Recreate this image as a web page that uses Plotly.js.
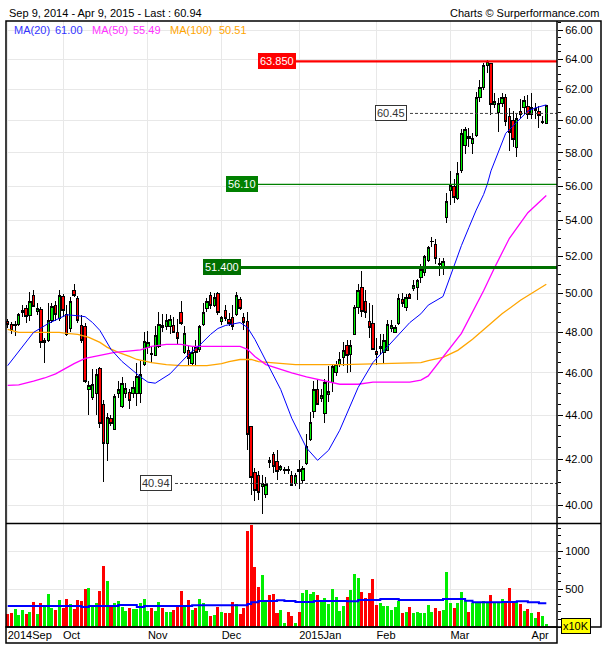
<!DOCTYPE html>
<html><head><meta charset="utf-8">
<script src="https://cdn.plot.ly/plotly-3.0.1.min.js"></script>
<style>html,body{margin:0;padding:0;background:#fff}#chart{width:605px;height:650px}
#chart .boxlayer path{shape-rendering:crispEdges}
#chart .barlayer path{shape-rendering:crispEdges}</style>
</head><body><div id="chart"></div>
<script>
// ---- data ----
const firstDay = '2014-09-09', lastDay = '2015-04-09';
const holidays = ['2014-12-25','2014-12-26','2015-01-01','2015-04-03','2015-04-06'];
const opens = [48.3,48.55,48.4,48.35,48.4,49.0,49.2,48.85,49.9,49.05,49.15,47.5,47.6,48.6,49.4,48.7,49.85,48.9,48.2,50.15,49.75,48.35,48.3,45.2,44.8,45.0,46.2,44.5,42.7,43.85,43.35,45.0,44.4,45.0,45.05,45.0,45.0,45.0,46.4,47.25,46.95,46.85,47.3,48.35,48.3,48.3,48.35,48.0,49.0,47.0,47.1,46.45,47.25,47.15,48.4,49.2,49.9,49.4,50.0,48.55,49.1,48.65,48.75,48.9,49.7,48.75,48.55,43.45,41.4,41.3,40.8,40.45,41.95,42.2,41.9,41.55,41.5,41.55,41.3,40.95,41.55,41.05,41.8,42.9,44.15,45.2,44.75,44.05,44.95,45.55,46.0,46.4,46.75,47.35,46.9,47.9,49.3,50.3,49.6,48.55,48.45,47.05,47.2,47.0,47.1,48.2,48.0,48.45,49.7,49.3,49.95,50.25,50.35,50.85,51.1,51.75,52.8,52.65,51.6,51.45,54.2,55.75,56.0,55.25,56.9,58.45,59.0,58.55,59.05,61.45,62.15,63.6,63.7,61.0,60.5,61.1,61.5,60.25,60.0,58.35,60.6,60.85,60.9,60.4,60.65,60.6,59.9,59.8];
const highs = [48.7,48.7,48.55,48.6,49.0,49.4,49.4,50.1,50.2,49.5,49.3,47.7,49.5,49.5,49.6,50.2,50.0,49.4,49.8,50.5,49.9,48.9,48.5,45.6,46.2,46.2,46.3,44.7,44.1,44.0,45.0,45.6,45.8,45.5,45.2,45.6,46.5,46.6,48.0,48.05,47.3,48.35,49.05,48.95,48.95,48.9,48.8,48.7,49.6,48.3,47.3,47.3,47.6,48.4,49.5,49.75,50.1,50.05,50.1,48.85,49.4,49.0,49.4,50.1,49.85,49.0,49.05,43.5,41.6,41.5,41.3,41.2,42.1,42.3,42.4,41.75,41.65,41.7,41.5,41.4,41.95,41.7,43.15,44.15,45.6,45.7,45.2,45.7,46.35,46.4,46.6,47.0,47.5,47.6,47.6,49.4,50.5,51.2,50.2,49.5,49.4,47.7,47.9,47.9,48.65,48.65,48.4,50.0,50.05,50.0,50.05,50.75,50.8,51.6,52.05,52.6,53.05,52.95,51.9,51.9,55.6,56.9,56.4,57.45,59.45,59.6,59.55,59.2,61.8,62.6,63.75,63.95,63.75,61.75,61.45,61.75,61.7,60.8,60.6,60.4,61.4,61.6,61.65,61.75,61.1,60.95,60.3,61.0];
const lows = [48.1,48.2,47.9,47.8,48.3,48.8,48.5,48.6,49.3,48.9,47.2,46.5,47.5,48.5,48.6,48.6,48.8,47.8,48.0,49.85,48.5,47.45,45.5,44.0,44.7,44.0,43.4,41.0,41.9,43.5,43.3,44.8,44.35,44.8,44.3,44.8,44.4,44.55,46.35,46.9,46.5,46.8,47.2,48.0,48.1,47.9,47.95,47.4,48.4,46.9,46.35,46.35,46.35,47.0,48.35,49.05,49.2,49.3,48.9,48.4,48.6,48.3,48.1,48.85,49.15,48.1,42.4,40.45,40.2,40.25,39.65,40.3,41.6,41.4,41.1,41.5,41.35,41.35,40.85,40.85,40.7,40.95,41.75,42.8,43.85,44.45,44.6,43.65,44.6,45.1,45.85,46.3,46.35,46.0,46.05,47.85,48.95,48.8,48.75,47.7,47.1,46.4,46.85,46.5,47.05,48.0,47.95,48.4,49.3,49.1,49.7,50.15,49.65,50.55,50.95,51.7,52.5,51.6,50.95,51.0,53.85,54.9,55.0,55.2,56.75,57.9,58.35,57.9,58.95,61.15,61.95,63.1,60.35,60.8,59.3,60.85,59.65,58.1,58.35,57.75,60.1,60.4,60.1,60.1,60.1,59.5,59.75,59.75];
const closes = [48.55,48.4,48.1,48.4,48.9,49.1,48.8,49.6,49.35,49.2,47.5,47.6,48.6,49.35,48.9,49.9,49.1,47.9,49.6,49.9,48.6,47.6,45.6,45.4,45.45,45.9,43.6,42.7,43.9,43.6,44.85,45.2,45.5,45.25,44.7,45.3,45.8,45.9,47.55,47.5,46.9,47.85,48.4,48.25,48.6,48.65,48.0,47.7,48.45,47.95,46.7,47.0,47.0,48.3,49.0,49.6,49.4,49.8,49.0,48.75,48.7,48.45,48.3,49.9,49.2,48.5,43.1,41.2,40.65,40.55,40.95,40.9,41.85,41.7,41.45,41.7,41.55,41.5,40.85,41.3,41.45,41.6,42.55,43.65,45.2,44.5,44.9,45.55,45.1,46.3,46.4,46.65,47.1,46.85,47.35,49.3,50.15,49.05,49.0,48.25,47.15,46.9,47.3,47.6,48.4,48.35,48.25,49.75,49.5,49.8,49.75,50.45,50.7,51.3,52.0,52.5,52.85,51.9,51.55,51.7,55.1,56.05,55.3,56.75,59.2,59.45,58.85,58.85,61.45,62.1,63.6,63.85,61.0,61.2,61.1,61.45,59.95,59.25,58.8,60.1,60.4,61.25,60.4,60.85,60.75,60.3,59.95,60.94];
const volumes = [200,171,180,232,158,224,171,197,329,171,316,276,434,250,224,355,250,368,303,237,355,342,500,513,290,316,474,803,605,263,316,342,263,211,250,237,237,316,368,211,250,211,329,250,197,197,224,272,474,272,355,224,250,368,316,211,145,158,263,197,184,184,329,303,171,250,1263,1342,790,526,684,333,421,434,184,224,48,197,145,53,197,447,487,434,461,421,342,382,303,500,395,211,276,395,487,697,645,461,382,447,632,290,316,276,276,224,263,342,184,197,263,184,197,184,184,290,197,250,211,224,724,316,250,316,461,355,197,316,329,316,342,316,421,316,316,368,329,513,316,342,303,211,237,184,118,197,145,42];

const ma20Idx = [1,5,8,12,15,17,20,22,24,26,29,32,35,37,39,41,45,48,50,53,56,58,60,64,66,68,71,75,78,82,85,88,91,96,100,105,110,113,115,119,122,124,126,128,130,131,132,134,136,139,142,144,147];
const ma20Val = [46.35,47.3,48.0,48.45,48.72,48.9,48.85,48.8,48.5,48.1,47.15,46.55,46.1,45.8,45.55,45.5,45.95,46.5,46.9,47.35,47.9,48.2,48.35,48.5,48.25,47.65,46.6,45.2,43.85,42.5,41.95,42.4,43.3,45.3,46.5,47.5,48.5,48.95,49.4,49.85,51.5,52.6,53.6,54.6,55.5,56.1,56.9,58.0,59.2,59.9,60.6,60.8,61.0];
const ma50Idx = [1,4,8,11,14,17,19,22,25,27,30,33,37,40,44,48,51,59,64,66,68,71,75,78,82,87,91,96,100,110,113,115,119,124,130,133,137,142,147];
const ma50Val = [45.4,45.42,45.6,45.75,45.95,46.25,46.45,46.7,46.8,46.9,47.0,47.05,47.12,47.3,47.4,47.4,47.3,47.3,47.3,47.15,46.8,46.4,46.15,46.0,45.8,45.6,45.45,45.45,45.55,45.55,45.65,45.85,46.75,47.95,50.15,51.4,53.0,54.45,55.45];
const ma100Idx = [1,4,11,15,17,20,23,26,28,31,34,36,40,44,48,55,59,61,64,67,69,73,79,92,101,113,115,119,123,127,131,135,140,145,147];
const ma100Val = [48.15,48.0,48.0,48.0,47.95,47.9,47.75,47.5,47.25,47.0,46.8,46.65,46.5,46.4,46.35,46.35,46.45,46.55,46.65,46.65,46.55,46.5,46.4,46.4,46.45,46.5,46.6,46.75,47.1,47.65,48.3,48.95,49.65,50.25,50.5];
const volMaIdx = [1,21,23,31,36,38,51,66,67,69,74,76,79,84,93,96,102,107,119,125,127,135,139,142,145,147];
const volMaVal = [276,262,276,290,262,276,285,303,325,342,351,342,329,342,338,355,368,355,368,346,325,329,338,325,311,311];
const maNames = ['MA(20)','MA(50)','MA(100)'];
const maLast = [61.00, 55.49, 50.51];
const levelValues = [63.85, 56.10, 51.40, 60.45, 40.94];
const levelLabels = ['63.850','56.10','51.400','60.45','40.94'];
const priceTicks = [40,42,44,46,48,50,52,54,56,58,60,62,64,66];
const volTicks = [500,1000];
const monthNames = ['Jan','Feb','Mar','Apr','May','Jun','Jul','Aug','Sep','Oct','Nov','Dec'];

// ---- trading-day calendar ----
function tradingDays(a, b, hol) {
  const out = []; const d = new Date(a + 'T00:00:00Z'); const end = new Date(b + 'T00:00:00Z');
  while (d <= end) {
    const s = d.toISOString().slice(0, 10); const w = d.getUTCDay();
    if (w !== 0 && w !== 6 && hol.indexOf(s) < 0) out.push(s);
    d.setUTCDate(d.getUTCDate() + 1);
  }
  return out;
}
const dates = tradingDays(firstDay, lastDay, holidays);
const idx = dates.map((_, i) => i);
const tickIdx = [], tickTxt = [];
dates.forEach((s, i) => {
  const m = +s.slice(5, 7) - 1;
  if (i === 0 || m !== +dates[i - 1].slice(5, 7) - 1) {
    const first = tickIdx.length === 0;
    tickIdx.push(first ? 1 : i);
    tickTxt.push((first || m === 0 ? s.slice(0, 4) : '') + monthNames[m]);
  }
});

// ---- geometry ----
const W = 605, H = 650, ML = 6, MR = 48, MT = 21, MB = 23;
const PW = W - ML - MR, PH = H - MT - MB;
const splitPx = 523.5;
const split = (H - MB - splitPx) / PH;
const px2xp = px => (px - ML) / PW;
const py2yp = py => (H - MB - py) / PH;
const xr = [0.54, 149.9];
const k = px => xr[0] + (px - ML) / PW * (xr[1] - xr[0]);

const green = '#00ee00', red = '#ff0000';
const volColors = closes.map((c, i) => c >= opens[i] ? green : red);
const FONT = 'Liberation Sans, Arial, sans-serif';

const traces = [
  {type: 'candlestick', x: idx, open: opens, high: highs, low: lows, close: closes,
   xaxis: 'x', yaxis: 'y', hoverinfo: 'skip', showlegend: false, whiskerwidth: 0,
   increasing: {line: {color: '#000', width: 1}, fillcolor: green},
   decreasing: {line: {color: '#000', width: 1}, fillcolor: red}},
  {type: 'scatter', mode: 'lines', x: ma100Idx, y: ma100Val, line: {color: '#ffa500', width: 1.3}, xaxis: 'x', yaxis: 'y', hoverinfo: 'skip', showlegend: false},
  {type: 'scatter', mode: 'lines', x: ma50Idx, y: ma50Val, line: {color: '#ff00ff', width: 1.3}, xaxis: 'x', yaxis: 'y', hoverinfo: 'skip', showlegend: false},
  {type: 'scatter', mode: 'lines', x: ma20Idx, y: ma20Val, line: {color: '#0000ff', width: 1}, xaxis: 'x', yaxis: 'y', hoverinfo: 'skip', showlegend: false},
  {type: 'bar', x: idx, y: volumes, marker: {color: volColors, line: {width: 0}}, xaxis: 'x2', yaxis: 'y2', hoverinfo: 'skip', showlegend: false},
  {type: 'scatter', mode: 'lines', x: volMaIdx, y: volMaVal, line: {color: '#0000ff', width: 2, shape: 'hv'}, xaxis: 'x2', yaxis: 'y2', hoverinfo: 'skip', showlegend: false}
];

// level lines
const levelStyle = [
  {start: k(258), color: '#ff0000', width: 2.2, dash: 'solid', box: '#ff0000', txt: '#ffffff', lx: k(258)},
  {start: k(226), color: '#008000', width: 1.2, dash: 'solid', box: '#008000', txt: '#ffffff', lx: k(226)},
  {start: k(203), color: '#007000', width: 3, dash: 'solid', box: '#007000', txt: '#ffffff', lx: k(203)},
  {start: k(410), color: '#404040', width: 1, dash: '3px,2px', box: '#ffffff', txt: '#333333', lx: k(375)},
  {start: k(175), color: '#404040', width: 1, dash: '3px,2px', box: '#ffffff', txt: '#333333', lx: k(140)}
];
levelValues.forEach((v, i) => {
  const s = levelStyle[i];
  traces.push({type: 'scatter', mode: 'lines', x: [s.start, xr[1]], y: [v, v], xaxis: 'x', yaxis: 'y',
    line: {color: s.color, width: s.width, dash: s.dash}, hoverinfo: 'skip', showlegend: false});
});

const annotations = [];
levelValues.forEach((v, i) => {
  const s = levelStyle[i];
  annotations.push({xref: 'x', yref: 'y', x: s.lx, y: Math.log10(v), xanchor: 'left', yanchor: 'middle',
    text: levelLabels[i], showarrow: false, bgcolor: s.box, bordercolor: i >= 3 ? '#333333' : s.box, borderwidth: 1, borderpad: 1,
    font: {family: FONT, size: 11, color: s.txt}});
});
annotations.push({xref: 'paper', yref: 'paper', x: px2xp(7), y: py2yp(13), xanchor: 'left', yanchor: 'middle', showarrow: false,
  text: 'Sep 9, 2014 - Apr 9, 2015 - Last : ' + closes[closes.length - 1].toFixed(2), font: {family: FONT, size: 11, color: '#000'}});
annotations.push({xref: 'paper', yref: 'paper', x: px2xp(601), y: py2yp(13), xanchor: 'right', yanchor: 'middle', showarrow: false,
  text: 'Charts © Surperformance.com', font: {family: FONT, size: 11, color: '#000'}});
const maColors = ['#3333ff', '#ff33ff', '#ffa500'];
const maPos = [[12, 53], [90, 131], [168, 217]];
maNames.forEach((n, i) => {
  annotations.push({xref: 'paper', yref: 'paper', x: px2xp(maPos[i][0]), y: py2yp(30), xanchor: 'left', yanchor: 'middle', showarrow: false,
    text: n, font: {family: FONT, size: 11, color: maColors[i]}});
  annotations.push({xref: 'paper', yref: 'paper', x: px2xp(maPos[i][1]), y: py2yp(30), xanchor: 'left', yanchor: 'middle', showarrow: false,
    text: maLast[i].toFixed(2), font: {family: FONT, size: 11, color: maColors[i]}});
});
annotations.push({xref: 'paper', yref: 'paper', x: px2xp(576), y: py2yp(626), xanchor: 'center', yanchor: 'middle', showarrow: false,
  text: 'x10K', bgcolor: '#ffff00', bordercolor: '#000', borderwidth: 1, borderpad: 1, font: {family: FONT, size: 11, color: '#000'}});

const minorPrice = [];
for (let v = 39.5; v <= 66.6; v += 0.5) if (priceTicks.indexOf(v) < 0) minorPrice.push(v);

const shapes = [
  {type: 'rect', xref: 'paper', yref: 'paper', x0: 0, x1: px2xp(601), y0: 0, y1: 1, line: {color: '#000', width: 1.5}},
  {type: 'line', xref: 'paper', yref: 'paper', x0: 0, x1: px2xp(601), y0: split, y1: split, line: {color: '#000', width: 1.5}},
  {type: 'line', xref: 'paper', yref: 'paper', x0: 1, x1: 1, y0: 0, y1: 1, line: {color: '#000', width: 1.5}},
  {type: 'rect', xref: 'paper', yref: 'paper', x0: 0, x1: 1, y0: py2yp(643), y1: 0, line: {color: '#000', width: 1.5}}
];

const layout = {
  width: W, height: H, margin: {l: ML, r: MR, t: MT, b: MB, pad: 0},
  paper_bgcolor: '#fff', plot_bgcolor: '#fff', showlegend: false, hovermode: false,
  bargap: 0.18, boxgap: 0.08,
  font: {family: FONT, size: 11, color: '#000'},
  xaxis: {domain: [0, 1], anchor: 'y', range: xr, tickmode: 'array', tickvals: tickIdx, showticklabels: false,
    showgrid: true, gridcolor: '#e8e8e8', gridwidth: 1, zeroline: false, showline: false, ticks: '',
    rangeslider: {visible: false}, fixedrange: true},
  yaxis: {domain: [split, 1], anchor: 'x', type: 'log', range: [Math.log10(39.25), Math.log10(66.63)], side: 'right',
    tickmode: 'array', tickvals: priceTicks, ticktext: priceTicks.map(v => v.toFixed(2)),
    ticks: 'outside', ticklen: 5, tickcolor: '#000', tickwidth: 1,
    minor: {tickmode: 'array', tickvals: minorPrice, ticks: 'outside', ticklen: 3, tickcolor: '#000', showgrid: false},
    showgrid: true, gridcolor: '#e8e8e8', zeroline: false, showline: false, tickfont: {family: FONT, size: 11}},
  xaxis2: {domain: [0, 1], anchor: 'y2', range: xr, tickmode: 'array', tickvals: tickIdx, ticktext: tickTxt,
    ticklabelposition: 'outside right', ticks: '', showgrid: true, gridcolor: '#e8e8e8', zeroline: false, showline: false,
    tickfont: {family: FONT, size: 11}, fixedrange: true},
  yaxis2: {domain: [0, split], anchor: 'x2', range: [0, 1362], side: 'right', tickmode: 'array', tickvals: volTicks,
    ticks: 'outside', ticklen: 5, tickcolor: '#000',
    minor: {dtick: 100, tick0: 0, ticks: 'outside', ticklen: 3, tickcolor: '#000', showgrid: false},
    showgrid: true, gridcolor: '#e8e8e8', zeroline: false, showline: false, tickfont: {family: FONT, size: 11}},
  shapes: shapes, annotations: annotations
};

Plotly.newPlot('chart', traces, layout, {staticPlot: true, displayModeBar: false});
</script></body></html>
